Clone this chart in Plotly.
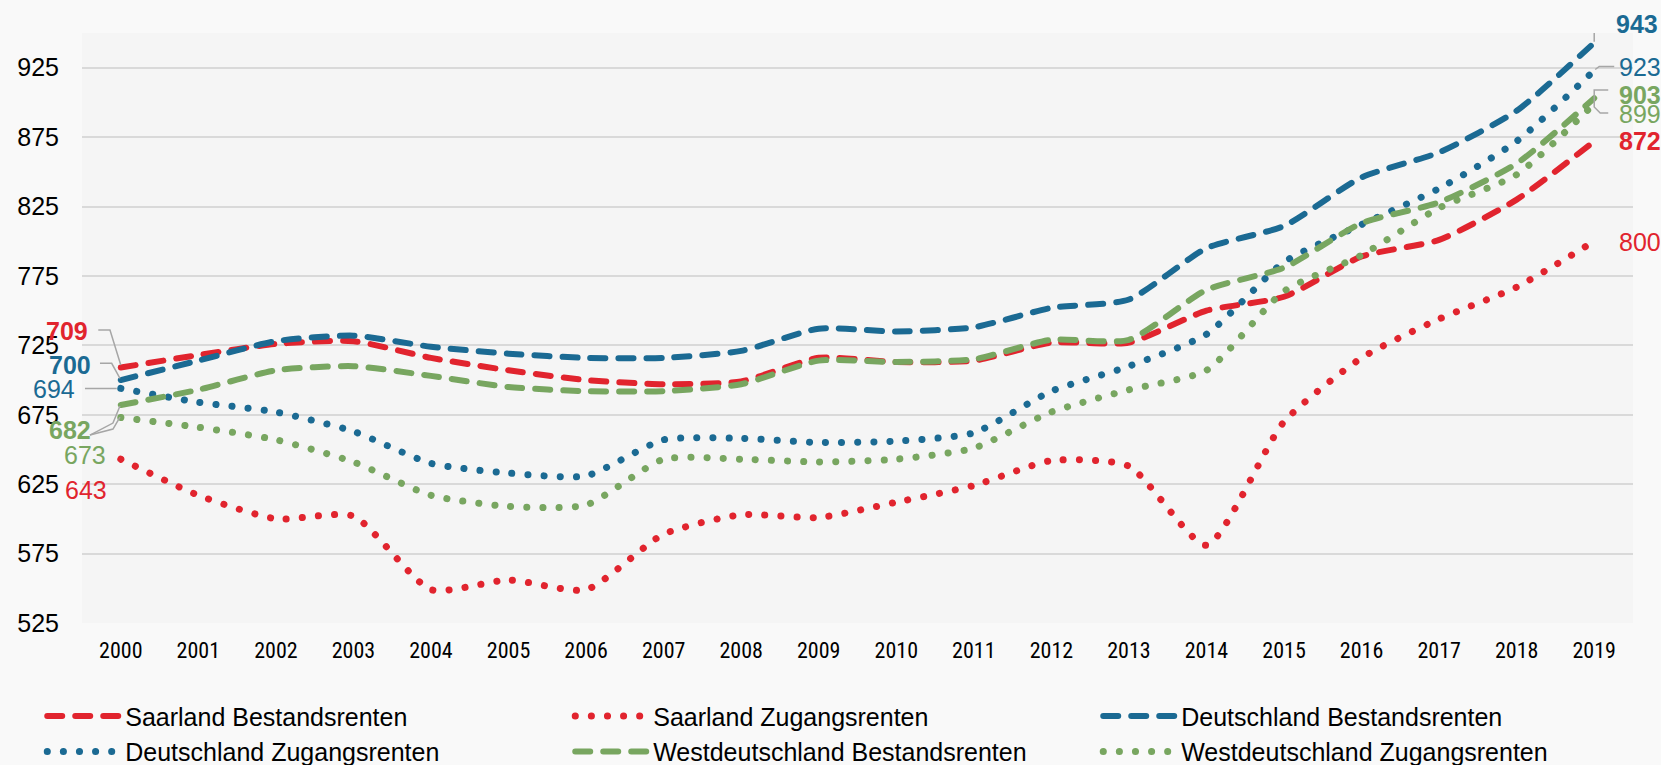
import plotly.graph_objects as go

years = list(range(2000, 2020))

saar_bestand = [709, 718, 726, 728, 716, 707, 700, 697, 699, 716, 713, 714, 727, 727, 750, 760, 789, 801, 830, 872]
saar_zugang = [643, 617, 600, 602, 549, 556, 549, 589, 603, 601, 612, 624, 642, 638, 581, 670, 716, 744, 767, 800]
de_bestand = [700, 714, 728, 732, 724, 719, 716, 716, 721, 737, 735, 738, 752, 758, 795, 811, 846, 864, 894, 943]
de_zugang = [694, 684, 677, 663, 640, 633, 631, 657, 658, 655, 656, 662, 692, 710, 733, 785, 812, 838, 872, 923]
west_bestand = [682, 693, 707, 710, 703, 695, 692, 692, 697, 714, 713, 715, 729, 729, 765, 781, 813, 828, 856, 903]
west_zugang = [673, 666, 657, 641, 617, 609, 610, 643, 643, 641, 643, 651, 677, 693, 707, 764, 790, 824, 848, 899]

series_names = [
    "Saarland Bestandsrenten", "Saarland Zugangsrenten", "Deutschland Bestandsrenten",
    "Deutschland Zugangsrenten", "Westdeutschland Bestandsrenten", "Westdeutschland Zugangsrenten",
]
series_values = [saar_bestand, saar_zugang, de_bestand, de_zugang, west_bestand, west_zugang]

y_ticks = [525, 575, 625, 675, 725, 775, 825, 875, 925]

RED = "#E1242E"
BLUE = "#1B6A93"
GREEN = "#78A660"
colors = [RED, RED, BLUE, BLUE, GREEN, GREEN]
dashed = [True, False, True, False, True, False]

W, H = 1661, 765
M_L, M_R, M_T, M_B = 82, 28, 33, 142
X_RANGE = [1999.5, 2019.5]
Y_RANGE = [525, 950]
PX_X = (W - M_L - M_R) / (X_RANGE[1] - X_RANGE[0])
PX_Y = (H - M_T - M_B) / (Y_RANGE[1] - Y_RANGE[0])

fig = go.Figure()
for name, vals, col, d in zip(series_names, series_values, colors, dashed):
    fig.add_trace(go.Scatter(
        x=years, y=vals, name=name, mode="lines",
        line=dict(color=col, width=6 if d else 7,
                  dash="15px,13px" if d else "0.1px,16px",
                  shape="spline", smoothing=0.6),
        hoverinfo="x+y+name",
    ))

LBL_FONT = "Liberation Sans, Arial, sans-serif"

def label(xi, val, text, col, bold, xshift, yshift, anchor):
    fig.add_annotation(
        x=years[xi], y=val, text=f"<b>{text}</b>" if bold else text,
        showarrow=False, xanchor=anchor, yanchor="middle",
        xshift=xshift, yshift=yshift, borderpad=0,
        font=dict(family=LBL_FONT, size=25, color=col),
    )

def leader(xi, val, offsets):
    # offsets in pixels relative to the data point (dx right, dy up)
    pts = [(years[xi] + dx / PX_X, val + dy / PX_Y) for dx, dy in offsets]
    path = "M" + " L".join(f"{px:.4f},{py:.4f}" for px, py in pts)
    fig.add_shape(type="path", xref="x", yref="y", path=path,
                  line=dict(color="#A6A6A6", width=1.5), layer="above")

# left side (2000)
label(0, saar_bestand[0], str(saar_bestand[0]), RED, True, -31.5, 36.6, "right")
leader(0, saar_bestand[0], [(-22.5, 37.6), (-10.8, 37.6), (0, 2.6)])
label(0, de_bestand[0], str(de_bestand[0]), BLUE, True, -29, 15.5, "right")
leader(0, de_bestand[0], [(-20.8, 16.7), (-9.1, 16.7), (-0.8, 1.7)])
label(0, de_zugang[0], str(de_zugang[0]), BLUE, False, -44.8, -0.6, "right")
leader(0, de_zugang[0], [(-35.8, 0), (-4, 0)])
label(0, west_bestand[0], str(west_bestand[0]), GREEN, True, -29, -24.5, "right")
leader(0, west_bestand[0], [(-30.8, -30), (-7.8, -18), (-0.8, -1)])
leader(0, west_bestand[0], [(-30.8, -30), (-7.8, -24), (-0.8, -12)])
label(0, west_zugang[0], str(west_zugang[0]), GREEN, False, -13.5, -37.8, "right")
label(0, saar_zugang[0], str(saar_zugang[0]), RED, False, -12.5, -30.8, "right")

# right side (2019)
label(19, de_bestand[19], str(de_bestand[19]), BLUE, True, 21, 19, "left")
leader(19, de_bestand[19], [(0, 1), (0, 21), (12, 21)])
label(19, de_zugang[19], str(de_zugang[19]), BLUE, False, 24, 3.5, "left")
leader(19, de_zugang[19], [(1, 1), (5, 4), (20, 4)])
label(19, west_bestand[19], str(west_bestand[19]), GREEN, True, 24, 3, "left")
label(19, west_zugang[19], str(west_zugang[19]), GREEN, False, 24, -9.7, "left")
leader(19, west_bestand[19], [(14, 8.2), (0, 8.2), (0, -8.8), (6, -14.8), (14, -14.8)])
label(19, saar_bestand[19], str(saar_bestand[19]), RED, True, 24, 0, "left")
label(19, saar_zugang[19], str(saar_zugang[19]), RED, False, 24, -1, "left")

fig.update_layout(
    width=W, height=H,
    margin=dict(l=M_L, r=M_R, t=M_T, b=M_B, autoexpand=False),
    paper_bgcolor="#F9F9F9", plot_bgcolor="#F5F5F5",
    font=dict(family=LBL_FONT, color="#000000"),
    showlegend=True,
    legend=dict(
        orientation="h", x=-0.025, xanchor="left", y=-0.119, yanchor="top",
        entrywidth=441, entrywidthmode="pixels", itemwidth=72,
        font=dict(family=LBL_FONT, size=25, color="#000000"),
        bgcolor="rgba(0,0,0,0)", traceorder="normal",
    ),
    xaxis=dict(
        range=X_RANGE, tickvals=years, ticktext=[str(y) for y in years],
        showgrid=False, zeroline=False, showline=False, ticks="", ticklabelstandoff=12,
        tickfont=dict(family="Liberation Sans Narrow, Arial Narrow, Roboto Condensed, sans-serif", size=22, color="#000000"),
    ),
    yaxis=dict(
        range=Y_RANGE, tickvals=y_ticks, ticktext=[str(v) for v in y_ticks],
        showgrid=True, gridcolor="#D9D9D9", gridwidth=2, zeroline=False,
        showline=False, ticks="", ticklabelstandoff=22,
        tickfont=dict(family=LBL_FONT, size=25, color="#000000"),
    ),
)

post = """
document.body.style.margin = '0';
document.querySelectorAll('.js-line').forEach(function(p){
  p.style.strokeLinecap = 'round';
  p.style.strokeLinejoin = 'round';
});
document.querySelectorAll('.legend .js-line').forEach(function(p){
  p.setAttribute('d', 'M4,0h72');
});
"""

fig.write_html("out.html", post_script=post, config={"displayModeBar": False})
